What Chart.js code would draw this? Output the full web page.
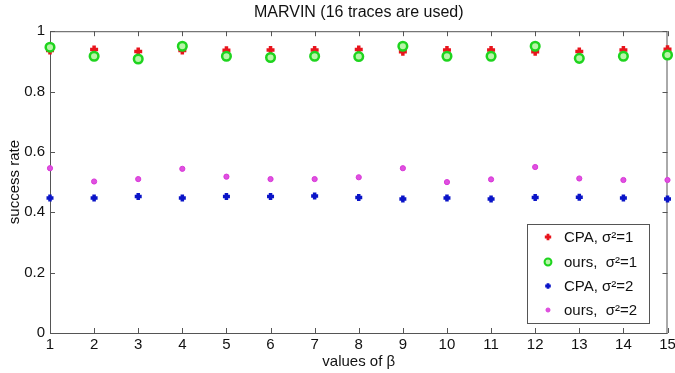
<!DOCTYPE html>
<html>
<head>
<meta charset="utf-8">
<script src="https://cdn.jsdelivr.net/npm/chart.js@4"></script>
<style>
  html, body { margin: 0; padding: 0; background: #fff; }
  #chart { display: block; }
</style>
</head>
<body>
<canvas id="chart" width="675" height="373"></canvas>
<script>
// --- DATA ---
const betaValues = [1, 2, 3, 4, 5, 6, 7, 8, 9, 10, 11, 12, 13, 14, 15];
const cpaSigma1 = [0.936, 0.939, 0.933, 0.936, 0.937, 0.938, 0.938, 0.939, 0.932, 0.938, 0.938, 0.932, 0.933, 0.938, 0.940];
const oursSigma1 = [0.947, 0.917, 0.908, 0.950, 0.917, 0.913, 0.917, 0.916, 0.950, 0.917, 0.917, 0.950, 0.910, 0.917, 0.921];
const cpaSigma2 = [0.447, 0.447, 0.452, 0.447, 0.452, 0.452, 0.454, 0.449, 0.444, 0.447, 0.444, 0.449, 0.450, 0.447, 0.444];
const oursSigma2 = [0.546, 0.502, 0.510, 0.544, 0.518, 0.510, 0.510, 0.516, 0.546, 0.500, 0.509, 0.550, 0.512, 0.507, 0.507];
const seriesLabels = ["CPA, σ²=1", "ours,  σ²=1", "CPA, σ²=2", "ours,  σ²=2"];
const yTicks = [0, 0.2, 0.4, 0.6, 0.8, 1];

const FONT = "'Liberation Sans', Arial, sans-serif";
const pts = arr => arr.map((v, i) => ({ x: betaValues[i], y: v }));

// --- MATLAB-ish box, inward ticks, legend ---
const matlabFrame = {
    id: "matlabFrame",
    beforeDatasetsDraw(chart) {
        const { ctx, chartArea: a, scales } = chart;
        ctx.save();
        ctx.strokeStyle = "#555";
        ctx.lineWidth = 1;
        ctx.strokeRect(a.left + 0.5, a.top + 0.5, a.right - a.left - 1, a.bottom - a.top);
        ctx.beginPath();
        betaValues.forEach(b => {
            const x = Math.round(scales.x.getPixelForValue(b)) + 0.5;
            ctx.moveTo(x, a.bottom); ctx.lineTo(x, a.bottom - 5);
            ctx.moveTo(x, a.top); ctx.lineTo(x, a.top + 5);
        });
        yTicks.forEach(t => {
            const y = Math.round(scales.y.getPixelForValue(t)) + 0.5;
            ctx.moveTo(a.left, y); ctx.lineTo(a.left + 5, y);
            ctx.moveTo(a.right, y); ctx.lineTo(a.right - 5, y);
        });
        ctx.stroke();
        ctx.restore();
    },
    afterDraw(chart) {
        const ctx = chart.ctx;
        const box = { x: 527, y: 224, w: 122, h: 99 };
        const rows = [237, 262, 286, 310];
        ctx.save();
        ctx.fillStyle = "#fff";
        ctx.fillRect(box.x, box.y, box.w, box.h);
        ctx.strokeStyle = "#555";
        ctx.lineWidth = 1;
        ctx.strokeRect(box.x + 0.5, box.y + 0.5, box.w, box.h);
        // markers, smaller than in the plot
        chart.data.datasets.forEach((ds, i) => {
            ctx.save();
            ctx.fillStyle = ds.backgroundColor;
            ctx.strokeStyle = ds.borderColor;
            ctx.lineWidth = ds.borderWidth * 0.8;
            Chart.helpers.drawPoint(ctx, {
                pointStyle: ds.pointStyle,
                radius: ds.pointRadius * 0.8,
                borderWidth: ds.borderWidth * 0.8,
                rotation: 0
            }, 548, rows[i]);
            ctx.restore();
        });
        ctx.fillStyle = "#111";
        ctx.font = "15px " + FONT;
        ctx.textBaseline = "middle";
        seriesLabels.forEach((s, i) => ctx.fillText(s, 564, rows[i] + 1));
        ctx.restore();
    }
};

new Chart(document.getElementById("chart"), {
    type: "scatter",
    data: {
        datasets: [
            {
                label: seriesLabels[0], data: pts(cpaSigma1), order: 2,
                pointStyle: "cross", pointRadius: 4, borderWidth: 3.5,
                borderColor: "#e8141c", backgroundColor: "#e8141c"
            },
            {
                label: seriesLabels[1], data: pts(oursSigma1), order: 1,
                pointStyle: "circle", pointRadius: 4.3, borderWidth: 2.5,
                borderColor: "#1ed41e", backgroundColor: "#b8f5a8"
            },
            {
                label: seriesLabels[2], data: pts(cpaSigma2), order: 3,
                pointStyle: "cross", pointRadius: 3.5, borderWidth: 3.5,
                borderColor: "#0a14c8", backgroundColor: "#0a14c8"
            },
            {
                label: seriesLabels[3], data: pts(oursSigma2), order: 4,
                pointStyle: "circle", pointRadius: 2.6, borderWidth: 1,
                borderColor: "#d838d8", backgroundColor: "#e050e0"
            }
        ]
    },
    options: {
        responsive: false,
        animation: false,
        layout: { padding: { left: 0, right: 4, top: 0, bottom: 0 } },
        elements: { point: { hoverRadius: 4 } },
        datasets: { scatter: { clip: false } },
        plugins: {
            legend: { display: false },
            tooltip: { enabled: false },
            title: {
                display: true,
                fullSize: false,
                text: "MARVIN (16 traces are used)",
                color: "#111",
                font: { family: FONT, size: 16, weight: "normal" },
                padding: { top: 3, bottom: 9 }
            }
        },
        scales: {
            x: {
                type: "linear",
                min: 1, max: 15,
                afterFit: s => {
                    s.height = 40;
                    s.paddingRight = 0;
                    s.paddingLeft = 0;
                    // let the "15" label run past the edge, as in the original
                    s.getPadding = () => ({ left: 0, top: 0, right: 0, bottom: 0 });
                },
                afterBuildTicks: s => { s.ticks = betaValues.map(v => ({ value: v })); },
                grid: { display: false, drawTicks: false },
                border: { display: false },
                ticks: { color: "#111", padding: 3, maxRotation: 0, autoSkip: false, font: { family: FONT, size: 15 } },
                title: {
                    display: true, text: "values of β", color: "#111",
                    padding: { top: 0, bottom: 2 },
                    font: { family: FONT, size: 15 }
                }
            },
            y: {
                min: 0, max: 1,
                afterFit: s => { s.width = 50; },
                afterBuildTicks: s => { s.ticks = yTicks.map(v => ({ value: v })); },
                grid: { display: false, drawTicks: false },
                border: { display: false },
                ticks: {
                    color: "#111", padding: 5, font: { family: FONT, size: 15 },
                    callback: v => String(+v.toFixed(1))
                },
                title: {
                    display: true, text: "success rate", color: "#111",
                    padding: { top: 6, bottom: 0 },
                    font: { family: FONT, size: 15 }
                }
            }
        }
    },
    plugins: [matlabFrame]
});
</script>
</body>
</html>
